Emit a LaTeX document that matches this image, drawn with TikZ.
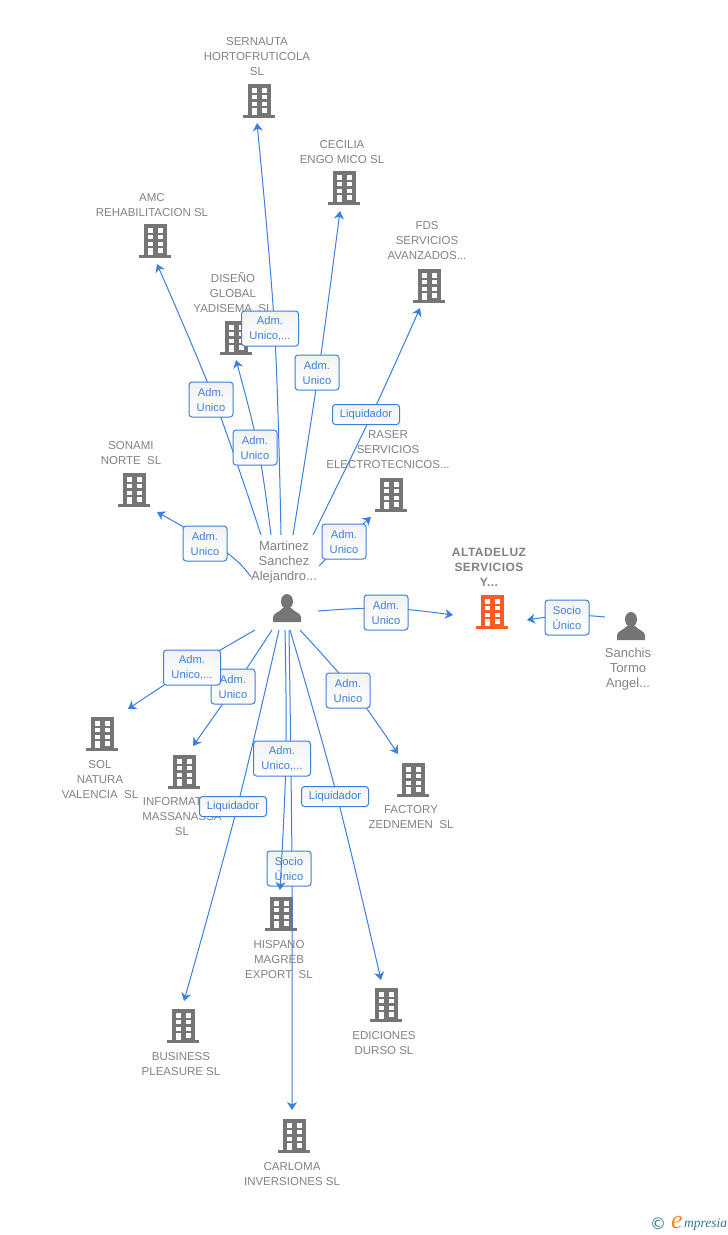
\documentclass[tikz,border=0pt]{standalone}
\usepackage{fontspec}
\setmainfont{Liberation Sans}
\newfontfamily\logoserif{Liberation Serif}
\newfontfamily\logosym{DejaVu Sans}
\usetikzlibrary{arrows.meta}
\definecolor{lnkblue}{HTML}{3B7FE0}
\definecolor{icongray}{HTML}{757575}
\definecolor{labgray}{HTML}{828282}
\definecolor{hot}{HTML}{FF5A26}
\definecolor{teal}{HTML}{2F7A8C}
\definecolor{logoorange}{HTML}{F28A1E}
\tikzset{
  x=1pt,y=-1pt,
  conn/.style={draw=lnkblue,line width=1pt,-{Stealth[length=8pt,width=10pt,inset=2.5pt]}},
  tagbox/.style={draw=lnkblue,line width=1pt,rounded corners=3pt,top color=black!5,bottom color=white,
    text=lnkblue,inner sep=0pt,align=center,font=\fontsize{11.2}{15}\selectfont,minimum height=35pt,yshift=-0.5pt},
  tagA/.style={tagbox,minimum width=44pt},
  tagB/.style={tagbox,minimum width=57pt},
  tagL/.style={tagbox,minimum width=67pt,minimum height=20pt},
  lab/.style={text=labgray,align=center,inner sep=0pt,yshift=-0.7pt,font=\fontsize{11.5}{15}\selectfont},
  plab/.style={text=icongray!90,align=center,inner sep=0pt,yshift=-0.7pt,font=\fontsize{13}{15}\selectfont},
  bldg/.pic={
    \fill[pic actions] (-11,-17) rectangle (12,15);
    \fill[pic actions] (-16,14) rectangle (16,17);
    \foreach \yy/\hh in {-12.7/4.4,-6/4.3,0.7/4}{
      \fill[white] (-6.7,\yy) rectangle (-2.3,\yy+\hh);
      \fill[white] (2.7,\yy) rectangle (7.7,\yy+\hh);
    }
    \fill[white] (2.7,6.7) rectangle (7.7,11.7);
    \fill[white] (-6.7,6.7) rectangle (-2.3,14);
  },
  pers/.pic={
    \fill[pic actions] (0,-6.5) ellipse (6 and 7.5);
    \fill[pic actions] (-14,14) -- (-14,9.5) .. controls (-14,5) and (-8,4.5) .. (-4,0) -- (4,0)
      .. controls (8,4.5) and (14,5) .. (14,9.5) -- (14,14) -- cycle;
  }
}
% id, start, point on the line, end, tag style, tag text, tag position
\newcommand{\lnk}[7]{%
  \coordinate (s#1) at (#2);\coordinate (m#1) at (#3);\coordinate (e#1) at (#4);
  \draw[conn] plot[smooth,tension=.6] coordinates {(s#1) (m#1) (e#1)};
  \node[#5] (b#1) at (#7) {#6};}
\newcommand{\ico}[3]{\coordinate (i#1) at (#2);\pic[fill=icongray] at (i#1) {#3};}
\begin{document}
\begin{tikzpicture}
\useasboundingbox (0,0) rectangle (728,1235);
\fill[white] (0,0) rectangle (728,1235);
% icons
\ico{a}{259,101}{bldg}
\ico{b}{344,188}{bldg}
\ico{c}{155,241}{bldg}
\ico{d}{429,286}{bldg}
\ico{e}{236,338}{bldg}
\ico{f}{134,490}{bldg}
\ico{g}{391,495}{bldg}
\ico{h}{102,734}{bldg}
\ico{i}{184,772}{bldg}
\ico{j}{413,780}{bldg}
\ico{k}{281,914}{bldg}
\ico{l}{386,1005}{bldg}
\ico{m}{183,1026}{bldg}
\ico{n}{294,1136}{bldg}
\ico{p}{287,608}{pers}
\ico{q}{631,626}{pers}
\coordinate (ialta) at (492,612);
\pic[fill=hot] at (ialta) {bldg};
% labels
\node[lab] (la) at (257,56) {SERNAUTA\\HORTOFRUTICOLA\\SL};
\node[lab] (lb) at (342,151) {CECILIA\\ENGO MICO SL};
\node[lab] (lc) at (152,204) {AMC\\REHABILITACION SL};
\node[lab] (ld) at (427,240) {FDS\\SERVICIOS\\AVANZADOS...};
\node[lab] (le) at (233,292) {DISEÑO\\GLOBAL\\YADISEMA\ \ SL};
\node[lab] (lf) at (131,452) {SONAMI\\NORTE\ \ SL};
\node[lab] (lg) at (388,449) {RASER\\SERVICIOS\\ELECTROTECNICOS...};
\node[lab] (lh) at (100,779) {SOL\\NATURA\\VALENCIA\ \ SL};
\node[lab] (li) at (182,816) {INFORMATICA\\MASSANASSA\\SL};
\node[lab] (lj) at (411,816) {FACTORY\\ZEDNEMEN\ \ SL};
\node[lab] (lk) at (279,959) {HISPANO\\MAGREB\\EXPORT\ \ SL};
\node[lab] (ll) at (384,1042) {EDICIONES\\DURSO SL};
\node[lab] (lm) at (181,1063) {BUSINESS\\PLEASURE SL};
\node[lab] (ln) at (292,1173) {CARLOMA\\INVERSIONES SL};
\node[plab] (lp) at (284,561) {Martinez\\Sanchez\\Alejandro...};
\node[plab] (lq) at (628,668) {Sanchis\\Tormo\\Angel...};
\node[lab,font=\fontsize{12}{15}\selectfont\bfseries\addfontfeatures{LetterSpace=4}] (lalta) at (489,567) {ALTADELUZ\\SERVICIOS\\Y...};
% connectors with their tags
\lnk{1}{281,535}{274.5,328}{257,123}{tagB}{Adm.\\Unico,...}{270,328}
\lnk{2}{293,535}{318.5,372}{340,211}{tagA}{Adm.\\Unico}{317,372}
\lnk{3}{313,535}{372,414}{420,308}{tagL}{Liquidador}{366,414}
\lnk{4}{261,535}{214,399}{157,264}{tagA}{Adm.\\Unico}{211,399}
\lnk{5}{271,535}{258,447}{236,360}{tagA}{Adm.\\Unico}{255,447}
\lnk{6}{251,577}{227,553}{157,512}{tagA}{Adm.\\Unico}{205,543}
\lnk{7}{319,566}{344,541}{371,517}{tagA}{Adm.\\Unico}{344,541}
\lnk{8}{318,611}{386,608}{453,615}{tagA}{Adm.\\Unico}{386,612}
\lnk{9}{605,617}{567,615}{527,620}{tagA}{Socio\\Único}{567,617}
\lnk{11}{272,630}{235,686}{193,746}{tagA}{Adm.\\Unico}{233,686}
\lnk{10}{255,630}{192,667}{128,709}{tagB}{Adm.\\Unico,...}{192,667}
\lnk{14}{289,630}{292,868}{292,1110}{tagA}{Socio\\Único}{289,868}
\lnk{13}{285,630}{286,758}{280,890}{tagB}{Adm.\\Unico,...}{282,758}
\lnk{12}{279,630}{237.5,806}{184,1001}{tagL}{Liquidador}{233,806}
\lnk{15}{290,630}{337,796}{381,980}{tagL}{Liquidador}{335,796}
\lnk{16}{300,630}{353,690}{398,754}{tagA}{Adm.\\Unico}{348,690}
% logo
\node[text=teal,inner sep=0pt,font=\fontsize{16}{16}\logosym] (logo1) at (658,1224) {©};
\node[text=logoorange,inner sep=0pt,font=\fontsize{26}{26}\logoserif\itshape] (logo2) at (677,1222) {e};
\node[text=teal,inner sep=0pt,anchor=west,font=\fontsize{13.5}{14}\logoserif\itshape] (logo3) at (684,1224) {mpresia};
\end{tikzpicture}
\end{document}
